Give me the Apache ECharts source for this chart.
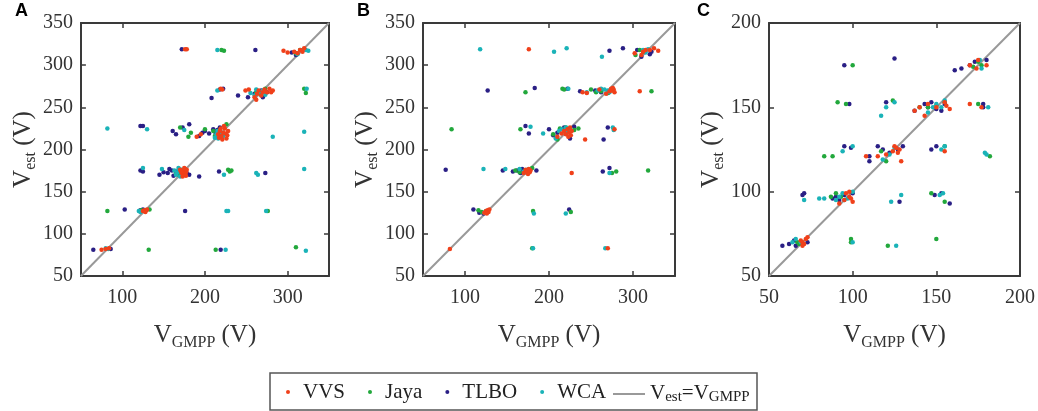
<!DOCTYPE html>
<html>
<head>
<meta charset="utf-8">
<script src="https://cdn.jsdelivr.net/npm/echarts@6/dist/echarts.min.js"></script>
<style>
  html, body { margin: 0; padding: 0; background: #fff; }
  #main { width: 1038px; height: 411px; }
</style>
</head>
<body>
<div id="main"></div>
<script>
// ---- data ----
var seriesNames = ['VVS', 'Jaya', 'TLBO', 'WCA'];
var lineName = 'Vest=VGMPP';

// panel A
var aVVS = [[75,81],[80,82],[84,83],[125,127],[127,128],[129,128],[130,129],[128,126],[172,172],[174,175],[175,170],[176,177],[177,173],[173,168],[178,176],[171,174],[175,178],[170,176],[177,169],[190,215],[195,218],[216,218],[218,222],[220,216],[222,220],[224,225],[226,213],[225,219],[228,222],[219,225],[223,228],[221,212],[227,217],[217,214],[219,272],[221,271],[249,270],[253,271],[260,262],[263,266],[265,270],[268,264],[270,268],[272,271],[275,268],[278,272],[280,268],[282,270],[262,259],[176,319],[178,319],[295,317],[300,315],[308,316],[312,314],[315,318],[318,316],[320,320]];
var aJaya = [[82,127],[132,81],[123,128],[133,129],[128,127],[170,226],[180,215],[183,220],[200,224],[210,222],[218,223],[226,230],[165,172],[170,176],[168,170],[213,81],[220,318],[223,317],[228,176],[230,174],[232,175],[262,268],[268,265],[273,272],[310,84],[320,272],[322,267],[315,318],[310,314],[276,127],[212,216]];
var aTLBO = [[65,81],[86,82],[103,129],[122,128],[125,129],[122,175],[125,174],[145,170],[150,173],[155,172],[157,177],[160,175],[162,169],[165,174],[178,172],[181,170],[193,168],[161,222],[165,218],[173,226],[181,230],[193,216],[197,220],[200,222],[205,219],[210,224],[212,221],[215,223],[218,226],[176,127],[208,261],[218,271],[222,272],[217,174],[219,81],[172,319],[261,318],[240,264],[252,262],[260,266],[268,270],[270,262],[275,268],[273,172],[305,315],[310,312],[122,228],[125,228]];
var aWCA = [[82,225],[80,83],[83,82],[120,127],[122,126],[125,178],[130,224],[148,177],[163,175],[165,170],[167,173],[168,178],[170,168],[172,176],[175,223],[212,214],[214,218],[215,222],[216,213],[218,220],[222,216],[215,270],[215,318],[223,170],[226,127],[228,127],[225,81],[262,172],[264,170],[274,127],[282,215],[255,267],[260,264],[262,271],[265,268],[270,270],[273,265],[320,221],[320,177],[322,80],[323,272],[312,313],[318,318],[322,318],[325,317]];

// panel B
var bVVS = [[82,82],[123,125],[125,127],[127,128],[128,126],[126,124],[129,129],[170,172],[172,176],[174,174],[175,171],[176,177],[177,173],[178,175],[176,319],[210,215],[215,219],[218,222],[220,218],[222,224],[224,220],[225,226],[227,222],[226,217],[223,215],[227,172],[243,212],[240,268],[245,267],[260,271],[268,266],[272,269],[274,272],[275,270],[277,271],[278,268],[276,273],[270,83],[278,224],[308,269],[302,314],[310,312],[312,316],[315,318],[320,318],[325,320],[330,317]];
var bJaya = [[84,224],[116,128],[120,126],[160,175],[165,173],[180,178],[166,224],[172,268],[181,127],[180,83],[205,218],[210,212],[213,225],[220,226],[230,223],[235,225],[216,272],[218,271],[226,126],[250,271],[256,268],[262,269],[270,267],[275,172],[280,174],[318,175],[322,269],[303,312],[308,318],[312,316]];
var bTLBO = [[77,176],[110,129],[117,125],[122,124],[127,270],[145,175],[157,174],[162,175],[166,172],[168,177],[185,175],[172,228],[176,219],[183,273],[200,224],[205,217],[210,220],[218,226],[225,213],[230,227],[224,129],[222,272],[237,269],[255,270],[262,268],[270,267],[275,271],[264,174],[272,178],[270,226],[265,212],[272,317],[288,320],[305,318],[310,310],[320,313],[322,316]];
var bWCA = [[118,319],[122,177],[123,125],[125,127],[148,177],[165,177],[170,174],[172,173],[174,176],[178,227],[193,219],[208,213],[212,222],[215,224],[220,226],[222,221],[225,224],[182,124],[181,83],[206,316],[221,320],[220,124],[223,272],[245,268],[258,270],[262,272],[266,271],[270,270],[272,268],[267,83],[263,310],[272,172],[276,226],[277,223],[312,318],[315,315],[318,319]];

// panel C
var cVVS = [[69,71],[70,70],[71,69],[72,72],[70,68],[73,73],[92,93],[95,95],[96,99],[98,97],[99,96],[98,100],[100,94],[108,121],[115,121],[120,122],[124,124],[126,126],[127,123],[128,125],[125,127],[129,118],[137,148],[140,150],[145,152],[150,150],[155,153],[156,151],[158,149],[143,145],[155,124],[170,152],[170,175],[174,173],[175,178],[180,175],[177,150]];
var cJaya = [[67,70],[68,69],[83,121],[88,121],[87,97],[90,99],[93,97],[91,153],[96,152],[100,175],[99,72],[99,70],[120,118],[117,124],[121,68],[124,154],[140,150],[145,150],[150,151],[155,153],[147,99],[150,72],[155,94],[155,127],[172,174],[175,177],[177,175],[175,152],[182,121]];
var cTLBO = [[58,68],[62,69],[65,71],[66,68],[73,70],[70,98],[71,99],[88,96],[90,97],[92,95],[95,98],[100,99],[95,175],[98,152],[95,127],[99,126],[110,121],[110,118],[115,127],[118,125],[122,123],[127,125],[130,127],[120,153],[125,179],[128,94],[137,148],[143,152],[145,150],[147,153],[150,149],[153,148],[155,152],[147,125],[150,127],[149,98],[153,99],[158,93],[161,172],[165,173],[170,175],[173,177],[180,178],[178,152],[178,150]];
var cWCA = [[64,70],[66,72],[69,70],[71,95],[80,96],[83,96],[90,95],[92,97],[94,99],[95,95],[97,96],[100,100],[94,124],[100,127],[100,70],[117,145],[120,150],[118,119],[122,122],[125,126],[123,94],[129,98],[125,153],[126,68],[145,147],[148,150],[150,152],[153,150],[155,154],[152,98],[154,99],[153,125],[155,127],[176,178],[177,173],[179,123],[180,122],[181,150]];

// axis ranges and ticks
var rangeAB = [50, 350];
var rangeC = [50, 200];
var xTicksAB = [100, 200, 300];
var yTicksAB = [50, 100, 150, 200, 250, 300, 350];
var ticksC = [50, 100, 150, 200];
var panelLabels = ['A', 'B', 'C'];

var colors = { VVS: '#f0401a', Jaya: '#22a83c', TLBO: '#2a1f85', WCA: '#1ab3b8' };

// ---- chart ----
var serif = 'Liberation Serif';
var axisColor = '#3a3a3a';
var grids = [
    { left: 75, top: 23, width: 254, height: 253 },
    { left: 423, top: 23, width: 252, height: 253 },
    { left: 769, top: 23, width: 253, height: 253 }
];
var panels = [
    { range: rangeAB, xt: xTicksAB, yt: yTicksAB, data: { VVS: aVVS, Jaya: aJaya, TLBO: aTLBO, WCA: aWCA } },
    { range: rangeAB, xt: xTicksAB, yt: yTicksAB, data: { VVS: bVVS, Jaya: bJaya, TLBO: bTLBO, WCA: bWCA } },
    { range: rangeC, xt: ticksC, yt: ticksC, data: { VVS: cVVS, Jaya: cJaya, TLBO: cTLBO, WCA: cWCA } }
];

var nameRich = {
    v: { fontFamily: serif, fontSize: 25, color: '#333', lineHeight: 28, verticalAlign: 'top' },
    s: { fontFamily: serif, fontSize: 16, color: '#333', lineHeight: 18, verticalAlign: 'bottom', padding: [22, 0, 0, 0] }
};

function axisBase(i, p, ticks, pos, showLabel, margin) {
    return {
        gridIndex: i, type: 'value', min: p.range[0], max: p.range[1],
        position: pos,
        axisLine: { show: true, onZero: false, lineStyle: { color: axisColor, width: 2 } },
        axisTick: { show: true, inside: true, length: 5, customValues: ticks, lineStyle: { color: axisColor, width: 1.5 } },
        axisLabel: { show: showLabel, customValues: ticks, fontFamily: serif, fontSize: 20, color: '#333', margin: margin },
        splitLine: { show: false }
    };
}

var xAxis = [], yAxis = [], series = [];
panels.forEach(function (p, i) {
    var xb = axisBase(i, p, p.xt, 'bottom', true, 12);
    xb.name = '{v|V}{s|GMPP}{v| (V)}';
    xb.nameLocation = 'middle';
    xb.nameGap = 35;
    xb.nameTextStyle = { rich: nameRich };
    xAxis.push(xb);
    xAxis.push(axisBase(i, p, p.xt, 'top', false, 8));

    var yl = axisBase(i, p, p.yt, 'left', true, 8);
    yl.name = '{v|V}{s|est}{v| (V)}';
    yl.nameLocation = 'middle';
    yl.nameGap = 38;
    yl.nameTextStyle = { rich: nameRich };
    yAxis.push(yl);
    yAxis.push(axisBase(i, p, p.yt, 'right', false, 8));

    series.push({
        name: lineName, type: 'line', xAxisIndex: i * 2, yAxisIndex: i * 2,
        data: [[p.range[0], p.range[0]], [p.range[1], p.range[1]]],
        symbol: 'none', silent: true, z: 1,
        lineStyle: { color: '#999', width: 2 }, itemStyle: { color: '#999' }
    });
    ['TLBO', 'Jaya', 'WCA', 'VVS'].forEach(function (n) {
        series.push({
            name: n, type: 'scatter', xAxisIndex: i * 2, yAxisIndex: i * 2,
            data: p.data[n], symbolSize: 4.5, z: 2,
            itemStyle: { color: colors[n], opacity: 1 }
        });
    });
});

var legendText = { fontFamily: serif, fontSize: 21, color: '#222', lineHeight: 22 };

var chart = echarts.init(document.getElementById('main'), null, { renderer: 'canvas' });
chart.setOption({
    animation: false,
    grid: grids,
    xAxis: xAxis,
    yAxis: yAxis,
    series: series,
    legend: [{
        data: seriesNames, left: 286, top: 381, icon: 'circle',
        itemWidth: 20, itemHeight: 4, itemGap: 23, padding: 0,
        textStyle: legendText
    }, {
        data: [{ name: lineName, icon: 'rect' }], left: 613, top: 378, itemWidth: 32, itemHeight: 2, padding: 0,
        textStyle: { rich: {
            v: { fontFamily: serif, fontSize: 21, color: '#222', lineHeight: 22, verticalAlign: 'top' },
            s: { fontFamily: serif, fontSize: 15, color: '#222', lineHeight: 16, verticalAlign: 'bottom', padding: [12, 0, 0, 0] }
        } },
        formatter: function () { return '{v|V}{s|est}{v|=V}{s|GMPP}'; }
    }],
    graphic: [
        { type: 'rect', shape: { x: 270, y: 373, width: 487, height: 37 }, style: { fill: 'none', stroke: '#555', lineWidth: 1.5 }, silent: true },
        { type: 'text', left: 15, top: 2, style: { text: panelLabels[0], font: 'bold 18px "Liberation Sans"', fill: '#000' } },
        { type: 'text', left: 357, top: 2, style: { text: panelLabels[1], font: 'bold 18px "Liberation Sans"', fill: '#000' } },
        { type: 'text', left: 697, top: 2, style: { text: panelLabels[2], font: 'bold 18px "Liberation Sans"', fill: '#000' } }
    ]
});
</script>
</body>
</html>
